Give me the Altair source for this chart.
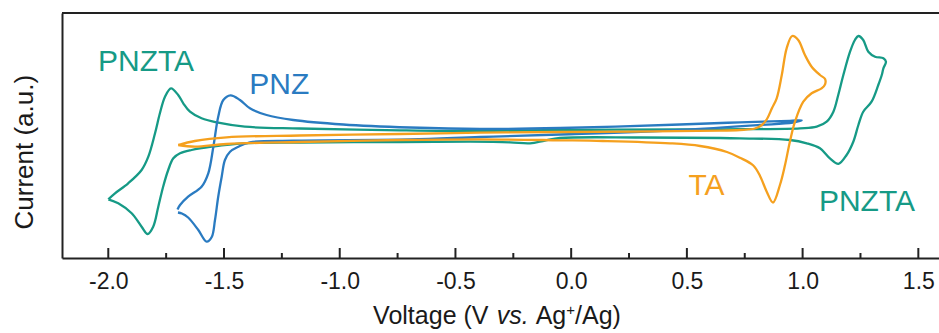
import altair as alt
import pandas as pd

# ---- data (Voltage in V vs Ag+/Ag, current in a.u.) ----
teal_v = [-2.000, -1.957, -1.899, -1.856, -1.830, -1.806, -1.784, -1.763, -1.741, -1.719,
          -1.690, -1.640, -1.553, -1.418, -1.172, -0.740, -0.437, -0.264, -0.178, -0.113,
          -0.048, 0.297, 0.729, 0.945, 1.018, 1.075, 1.118, 1.155, 1.190, 1.219,
          1.241, 1.262, 1.298, 1.327, 1.342, 1.349, 1.360, 1.349, 1.313, 1.284,
          1.262, 1.241, 1.226, 1.205, 1.176, 1.154, 1.133, 1.104, 1.061, 0.989,
          0.729, 0.470, -0.048, -0.394, -0.740, -1.172, -1.410, -1.525, -1.597, -1.647,
          -1.676, -1.698, -1.729, -1.755, -1.777, -1.798, -1.827, -1.856, -1.914, -1.971,
          -2.000]
teal_i = [-6.33, -6.73, -7.73, -9.07, -9.80, -9.07, -7.07, -5.07, -3.40, -2.23,
          -1.73, -1.40, -1.07, -0.73, -0.65, -0.60, -0.57, -0.63, -0.73, -0.45,
          -0.20, -0.15, -0.23, -0.40, -0.73, -1.23, -2.23, -2.78, -1.90, -0.57,
          1.10, 2.43, 3.43, 5.10, 6.10, 6.77, 7.43, 7.77, 7.93, 8.43,
          9.60, 10.00, 9.60, 8.43, 6.10, 4.10, 2.43, 1.43, 0.93, 0.77,
          0.68, 0.65, 0.60, 0.50, 0.57, 0.75, 0.93, 1.33, 1.77, 2.43,
          3.27, 4.10, 4.77, 3.93, 2.27, 0.27, -2.07, -3.40, -4.73, -5.73,
          -6.33]

blue_v = [-1.699, -1.682, -1.655, -1.611, -1.575, -1.553, -1.539, -1.525, -1.510, -1.496,
          -1.474, -1.438, -1.388, -1.201, -0.697, -0.394, -0.048, 0.470, 0.816, 0.958,
          0.996, 0.945, 0.729, 0.470, -0.048, -0.394, -0.697, -0.985, -1.201, -1.316,
          -1.388, -1.431, -1.472, -1.503, -1.525, -1.546, -1.568, -1.597, -1.655, -1.690,
          -1.701]
blue_i = [-7.65, -7.75, -8.15, -9.40, -10.57, -10.10, -8.40, -6.07, -4.07, -2.40,
          -1.57, -1.07, -0.63, -0.47, -0.35, -0.10, 0.15, 0.60, 1.10, 1.35,
          1.57, 1.52, 1.37, 1.15, 0.80, 0.70, 0.85, 1.15, 1.60, 2.10,
          2.77, 3.60, 4.07, 3.60, 1.93, -1.07, -3.73, -5.07, -6.07, -6.90,
          -7.35]

orange_v = [-1.698, -1.626, -1.489, -1.172, -0.740, -0.394, -0.048, 0.643, 0.729, 0.794,
            0.824, 0.846, 0.868, 0.888, 0.910, 0.931, 0.955, 0.981, 1.010, 1.039,
            1.075, 1.097, 1.097, 1.082, 1.039, 1.003, 0.967, 0.945, 0.924, 0.902,
            0.872, 0.845, 0.816, 0.787, 0.729, 0.673, 0.557, 0.427, 0.137, -0.048,
            -0.394, -0.740, -1.172, -1.489, -1.626, -1.698]
orange_i = [-0.90, -0.50, -0.13, 0.05, 0.20, 0.33, 0.40, 0.53, 0.60, 0.75,
            1.10, 1.70, 2.80, 3.77, 6.10, 8.77, 10.00, 9.60, 8.10, 6.93,
            6.10, 5.70, 5.17, 4.77, 4.27, 3.43, 1.43, -0.57, -2.90, -4.90,
            -6.65, -5.57, -4.00, -2.95, -2.17, -1.60, -1.00, -0.73, -0.50, -0.43,
            -0.33, -0.40, -0.60, -0.80, -1.07, -0.90]

label_text = ["PNZTA", "PNZ", "TA", "PNZTA"]
label_v = [-1.837, -1.261, 0.585, 1.278]
label_i = [6.53, 4.20, -5.90, -7.47]
label_series = ["PNZTA", "PNZ", "TA", "PNZTA"]

major_ticks = [-2.0, -1.5, -1.0, -0.5, 0.0, 0.5, 1.0, 1.5]
minor_ticks = [-1.75, -1.25, -0.75, -0.25, 0.25, 0.75, 1.25]

COLORS = {"PNZTA": "#169a86", "PNZ": "#2a7bc1", "TA": "#f5a01e"}
FONT = "Liberation Sans"
INK = "#1a1a1a"
FRAME = "#222222"

W, H = 877, 245

x_scale = alt.Scale(domain=[-2.2, 1.5893], nice=False, zero=False)
y_scale = alt.Scale(domain=[-12.2, 12.3], nice=False, zero=False)

x_axis = alt.Axis(
    values=major_ticks,
    labelExpr="datum.value < 0 ? '-' + format(-datum.value, '.1f') : format(datum.value, '.1f')",
    title=None, ticks=False, grid=False, domain=True, domainColor=FRAME, domainWidth=2,
    labelFont=FONT, labelFontSize=23, labelColor=INK, labelPadding=12,
    labelFlush=False, labelOverlap=False,
)
y_axis = alt.Axis(
    labels=False, ticks=False, grid=False, domain=True, domainColor=FRAME, domainWidth=2,
    title="Current (a.u.)", titleFont=FONT, titleFontSize=26, titleFontWeight="normal",
    titleColor=INK, titleAngle=270, titleX=-30, titleY=138.7, titleAlign="center",
    titleBaseline="alphabetic",
)


def curve(name, v, i):
    df = pd.DataFrame({"V": v, "I": i, "k": list(range(len(v)))})
    return alt.Chart(df).mark_line(
        interpolate="catmull-rom", strokeWidth=2.3, color=COLORS[name]
    ).encode(
        x=alt.X("V:Q", scale=x_scale, axis=x_axis),
        y=alt.Y("I:Q", scale=y_scale, axis=y_axis),
        order=alt.Order("k:Q"),
    )


lines = [curve("PNZTA", teal_v, teal_i), curve("PNZ", blue_v, blue_i), curve("TA", orange_v, orange_i)]

labels_df = pd.DataFrame({"t": label_text, "V": label_v, "I": label_i,
                          "c": [COLORS[s] for s in label_series]})
labels = alt.Chart(labels_df).mark_text(
    font=FONT, fontSize=30, align="center", baseline="alphabetic"
).encode(
    x=alt.X("V:Q", scale=x_scale, axis=x_axis),
    y=alt.Y("I:Q", scale=y_scale, axis=y_axis),
    text="t:N",
    color=alt.Color("c:N", scale=None),
)

major = alt.Chart(pd.DataFrame({"V": major_ticks})).mark_rule(color=FRAME, strokeWidth=2).encode(
    x=alt.X("V:Q", scale=x_scale, axis=x_axis), y=alt.value(H), y2=alt.value(H - 10))
minor = alt.Chart(pd.DataFrame({"V": minor_ticks})).mark_rule(color=FRAME, strokeWidth=2).encode(
    x=alt.X("V:Q", scale=x_scale, axis=x_axis), y=alt.value(H), y2=alt.value(H - 5))

top_line = alt.Chart(pd.DataFrame({"a": [0]})).mark_rule(color=FRAME, strokeWidth=2).encode(
    x=alt.value(0), x2=alt.value(W), y=alt.value(0))

# x-axis title with italic "vs." and superscript "+"
TS = 25
SUP = 15
SP = 0.278 * TS
pieces = [("Voltage (V", "normal", TS, 0, 4.669 * TS + SP),
          ("vs.", "italic", TS, 0, 1.278 * TS + SP),
          ("Ag", "normal", TS, 0, 1.223 * TS),
          ("+", "normal", SUP, -9, 0.584 * SUP),
          ("/Ag)", "normal", TS, 0, 1.834 * TS)]
total = sum(p[4] for p in pieces)
cx = 435
base_y = 311
one = pd.DataFrame({"a": [0]})
title_layers = []
xpos = cx - total / 2
for txt, style, size, dy, wdt in pieces:
    title_layers.append(
        alt.Chart(one).mark_text(text=txt, font=FONT, fontSize=size, fontStyle=style,
                                 align="left", baseline="alphabetic", color=INK).encode(
            x=alt.value(xpos), y=alt.value(base_y + dy))
    )
    xpos += wdt

chart = alt.layer(*lines, major, minor, top_line, labels, *title_layers).properties(
    width=W, height=H,
    padding={"left": 62, "top": 13, "right": 0, "bottom": 75},
    autosize=alt.AutoSizeParams(type="none"),
    background="white",
).configure_view(stroke=None)

chart.save("out.html", embed_options={"renderer": "svg", "actions": False})
